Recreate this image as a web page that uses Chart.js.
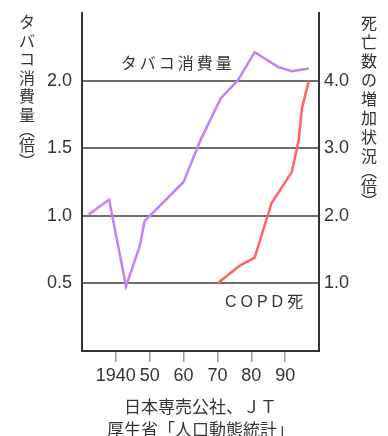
<!DOCTYPE html>
<html>
<head>
<meta charset="utf-8">
<script src="https://cdn.jsdelivr.net/npm/chart.js@4/dist/chart.umd.min.js"></script>
<style>
  body { margin: 0; background: #fff; }
</style>
</head>
<body>
<canvas id="chart" width="388" height="436"></canvas>
<script>
// タバコ消費量 (left axis, 倍)
const tobaccoYears  = [1932, 1938, 1943, 1947, 1948.5, 1960, 1965, 1971, 1976, 1981, 1988, 1992, 1997];
const tobaccoValues = [1.01, 1.12, 0.48, 0.77, 0.96, 1.25, 1.56, 1.87, 2.0, 2.21, 2.10, 2.07, 2.09];

// COPD死 (right axis, 倍)
const copdYears  = [1970, 1976.5, 1981, 1986, 1992, 1994, 1995, 1997];
const copdValues = [1.0, 1.26, 1.38, 2.19, 2.65, 3.12, 3.6, 4.0];

const xTicks = [1940, 1950, 1960, 1970, 1980, 1990];
const leftTicks = [0.5, 1.0, 1.5, 2.0];
const rightTicks = [1.0, 2.0, 3.0, 4.0];

const leftTitle = "タバコ消費量︵倍︶";
const rightTitle = "死亡数の増加状況︵倍︶";
const sourceLines = ["日本専売公社、ＪＴ", "厚生省「人口動態統計」"];

const textColor = "#333";
const font = '"Liberation Sans", "Noto Sans CJK JP", sans-serif';

function toPoints(xs, ys) {
  return xs.map((x, i) => ({ x: x, y: ys[i] }));
}

// keep the plot area fixed: no extra room for the end tick labels
function fixedSide(w) {
  return s => {
    s.width = w;
    s.paddingTop = 0;
    s.paddingBottom = 0;
  };
}

// vertical titles at the sides and the labels inside the plot
const extraText = {
  id: "extraText",
  afterDraw(chart) {
    const ctx = chart.ctx;
    const { x, y, y2 } = chart.scales;
    ctx.save();
    ctx.fillStyle = textColor;
    ctx.textAlign = "center";
    ctx.textBaseline = "middle";
    ctx.font = '16px "Noto Sans CJK JP"';

    function vertical(text, cx, top, step, parenStep) {
      let cy = top;
      for (const c of text) {
        const s = (c === "︵" || c === "︶") ? parenStep : step;
        cy += s / 2;
        ctx.fillText(c, cx, cy);
        cy += s / 2;
      }
    }
    vertical(leftTitle, 27, 13, 18.5, 12);
    vertical(rightTitle, 369, 13, 19, 11);

    ctx.letterSpacing = "3px";
    ctx.fillText("タバコ消費量", x.getPixelForValue(1958.3), y.getPixelForValue(2.13));
    ctx.letterSpacing = "4px";
    ctx.textAlign = "right";
    ctx.font = '16px ' + font;
    ctx.fillText("COPD死", x.getPixelForValue(1996.5), y2.getPixelForValue(0.72));
    ctx.restore();
  }
};

new Chart(document.getElementById("chart"), {
  type: "line",
  data: {
    datasets: [{
      label: "タバコ消費量",
      data: toPoints(tobaccoYears, tobaccoValues),
      borderColor: "#c080ff",
      borderWidth: 2.5,
      pointRadius: 0,
      yAxisID: "y"
    }, {
      label: "COPD死",
      data: toPoints(copdYears, copdValues),
      borderColor: "#ff6464",
      borderWidth: 2.5,
      pointRadius: 0,
      yAxisID: "y2"
    }]
  },
  options: {
    responsive: false,
    animation: false,
    layout: { padding: { top: 13, left: 0, right: 0, bottom: 0 } },
    plugins: {
      legend: { display: false },
      tooltip: { enabled: false }
    },
    scales: {
      x: {
        type: "linear",
        min: 1930,
        max: 2000,
        afterBuildTicks: s => { s.ticks = xTicks.map(v => ({ value: v })); },
        afterFit: s => { s.height = 85; },
        ticks: {
          autoSkip: false,
          maxRotation: 0,
          color: textColor,
          font: { family: font, size: 18 },
          padding: 3,
          callback: v => v === 1940 ? "1940" : String(v % 100)
        },
        grid: { drawOnChartArea: false, tickLength: 11, color: "#999", lineWidth: 1.5 },
        border: { color: "#333", width: 2 },
        title: {
          display: true,
          text: sourceLines,
          color: textColor,
          font: { family: font, size: 17, lineHeight: 1.35 },
          padding: { top: 0, bottom: -7 }
        }
      },
      y: {
        position: "left",
        min: 0,
        max: 2.5,
        afterBuildTicks: s => { s.ticks = leftTicks.map(v => ({ value: v })); },
        afterFit: fixedSide(82),
        ticks: {
          color: textColor,
          font: { family: font, size: 18 },
          padding: 10,
          callback: v => v.toFixed(1)
        },
        grid: { drawTicks: false, color: "#6e6e6e", lineWidth: 2 },
        border: { color: "#333", width: 2 }
      },
      y2: {
        position: "right",
        min: 0,
        max: 5,
        afterBuildTicks: s => { s.ticks = rightTicks.map(v => ({ value: v })); },
        afterFit: fixedSide(69),
        ticks: {
          color: textColor,
          font: { family: font, size: 18 },
          padding: 5,
          callback: v => v.toFixed(1)
        },
        grid: { drawOnChartArea: false, drawTicks: false },
        border: { color: "#333", width: 2 }
      }
    }
  },
  plugins: [extraText]
});
</script>
</body>
</html>
